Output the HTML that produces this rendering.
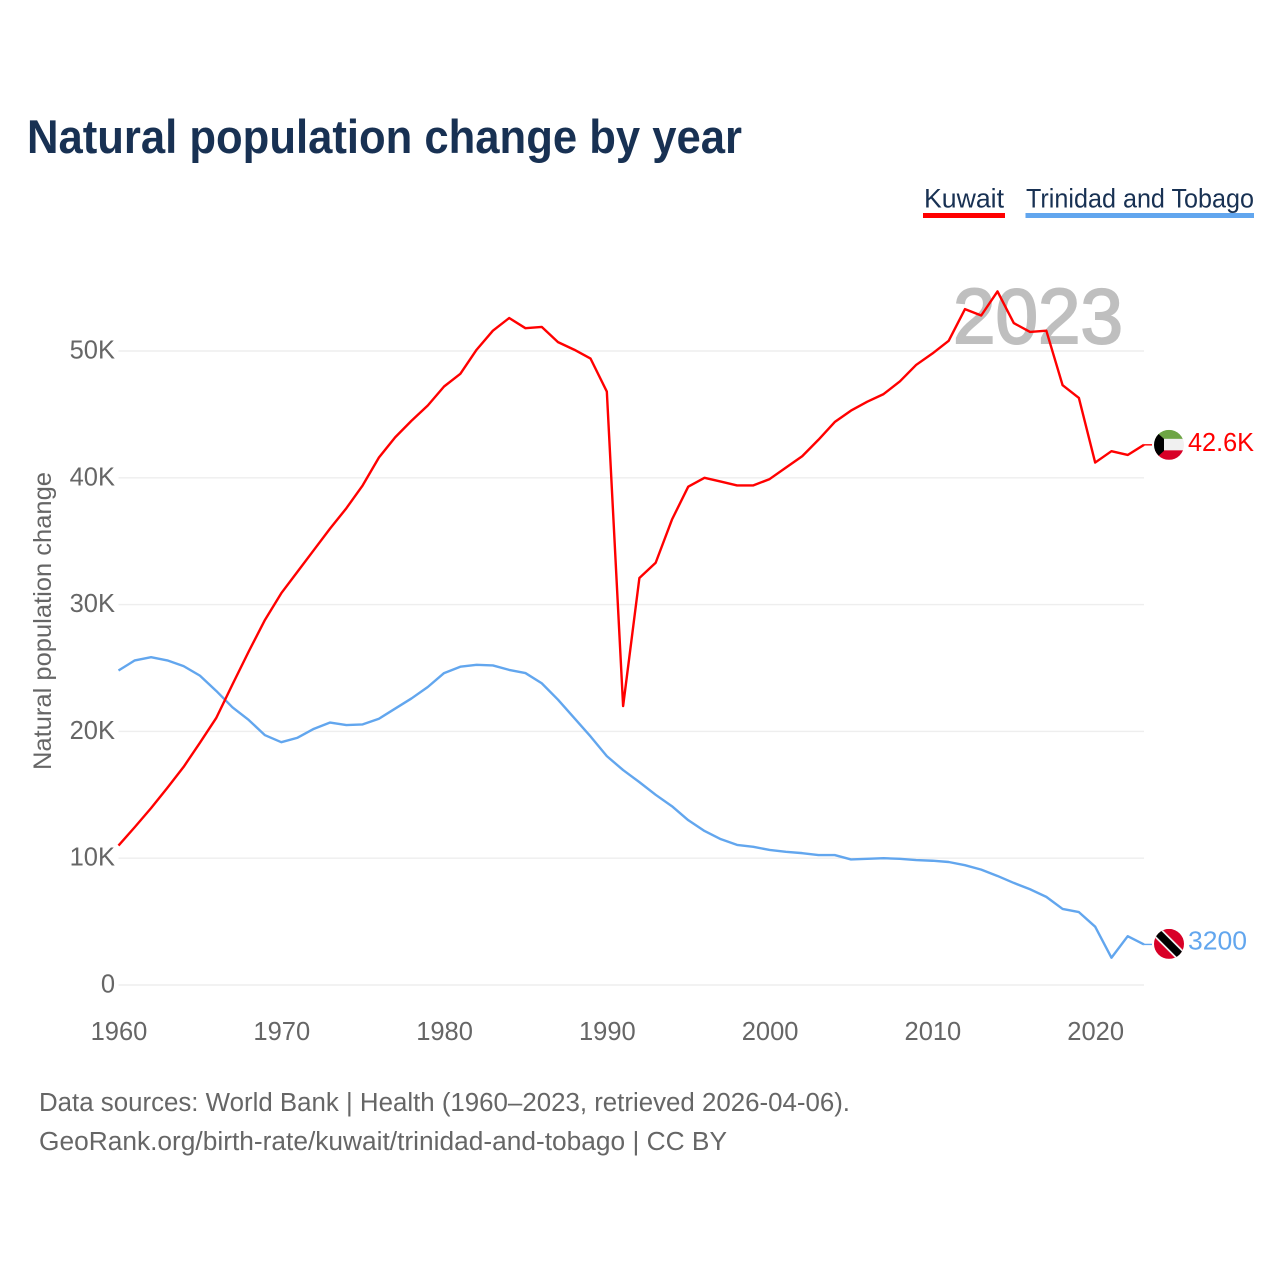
<!DOCTYPE html>
<html lang="en">
<head>
<meta charset="utf-8">
<title>Natural population change by year</title>
<style>
html,body{margin:0;padding:0;background:#fff;width:1280px;height:1280px;overflow:hidden}
svg{display:block}
text{font-family:"Liberation Sans",sans-serif}
.tick{font-size:25.5px;fill:#666}
.foot{font-size:25.5px;fill:#666}
</style>
</head>
<body>
<svg id="chart" xmlns="http://www.w3.org/2000/svg" width="1280" height="1280" viewBox="0 0 1280 1280">
  <defs>
    <clipPath id="flag-clip"><circle cx="0" cy="0" r="15"/></clipPath>
  </defs>
  <text x="27" y="153" font-size="47" font-weight="700" fill="#183153" textLength="715" lengthAdjust="spacingAndGlyphs">Natural population change by year</text>

  <g>
    <text x="924" y="207.5" font-size="26.5" fill="#183153" textLength="80" lengthAdjust="spacingAndGlyphs">Kuwait</text>
    <rect x="923" y="213" width="82" height="5" fill="#ff0000"/>
  </g>
  <g>
    <text x="1026" y="207.5" font-size="26.5" fill="#183153" textLength="228" lengthAdjust="spacingAndGlyphs">Trinidad and Tobago</text>
    <rect x="1025.5" y="213" width="228.5" height="5" fill="#62a6ee"/>
  </g>

  <g id="grid"></g>
  <text x="953" y="343" font-size="78" font-weight="400" fill="#bfbfbf" textLength="170" lengthAdjust="spacingAndGlyphs" stroke="#bfbfbf" stroke-width="2">2023</text>
  <g id="y-ticks"></g>
  <g id="x-ticks"></g>
  <text transform="translate(51,621) rotate(-90)" text-anchor="middle" font-size="25" fill="#666" textLength="298" lengthAdjust="spacingAndGlyphs">Natural population change</text>
  <g id="series"></g>

  <g id="flag-kuwait">
    <g clip-path="url(#flag-clip)">
      <rect x="-15" y="-15" width="30" height="9.5" fill="#6da544"/>
      <rect x="-15" y="-6" width="30" height="12" fill="#f0f0f0"/>
      <rect x="-15" y="5.5" width="30" height="9.5" fill="#d80027"/>
      <polygon points="-15,-15 -5,-6 -5,6 -15,15" fill="#000"/>
    </g>
  </g>
  <g id="flag-tt">
    <g clip-path="url(#flag-clip)">
      <rect x="-15" y="-15" width="30" height="30" fill="#d80027"/>
      <line x1="-15" y1="-15" x2="15" y2="15" stroke="#f0f0f0" stroke-width="11"/>
      <line x1="-15" y1="-15" x2="15" y2="15" stroke="#000" stroke-width="7.5"/>
    </g>
  </g>
  <text id="value-kuwait" x="1188" font-size="25.5" fill="#ff0000" textLength="66" lengthAdjust="spacingAndGlyphs"></text>
  <text id="value-tt" x="1188" font-size="25.5" fill="#62a6ee" textLength="59" lengthAdjust="spacingAndGlyphs"></text>

  <text class="foot" x="39" y="1111" textLength="811" lengthAdjust="spacingAndGlyphs">Data sources: World Bank | Health (1960–2023, retrieved 2026-04-06).</text>
  <text class="foot" x="39" y="1150" textLength="688" lengthAdjust="spacingAndGlyphs">GeoRank.org/birth-rate/kuwait/trinidad-and-tobago | CC BY</text>
</svg>
<script>
const startYear = 1960;
const kuwaitValues = [11.0,12.45,13.95,15.55,17.2,19.1,21.05,23.7,26.3,28.8,30.9,32.6,34.3,36.0,37.6,39.4,41.6,43.2,44.5,45.7,47.2,48.2,50.1,51.6,52.6,51.8,51.9,50.7,50.1,49.4,46.8,22.0,32.1,33.3,36.7,39.3,40.0,39.7,39.4,39.4,39.9,40.8,41.7,43.0,44.4,45.3,46.0,46.6,47.6,48.9,49.8,50.8,53.3,52.8,54.7,52.2,51.5,51.6,47.3,46.3,41.2,42.1,41.8,42.6];
const trinidadValues = [24.8,25.6,25.85,25.6,25.15,24.4,23.2,21.9,20.9,19.7,19.15,19.5,20.2,20.7,20.5,20.55,21.0,21.8,22.6,23.5,24.6,25.1,25.25,25.2,24.85,24.6,23.8,22.5,21.05,19.6,18.05,16.95,16.0,15.0,14.1,13.0,12.15,11.5,11.05,10.9,10.65,10.5,10.4,10.25,10.25,9.9,9.95,10.0,9.95,9.85,9.8,9.7,9.45,9.1,8.6,8.05,7.55,6.95,6.0,5.75,4.6,2.15,3.85,3.2];
const yTickValues = [0,10,20,30,40,50];
const yTickLabels = ["0","10K","20K","30K","40K","50K"];
const xTickYears = [1960,1970,1980,1990,2000,2010,2020];
const kuwaitLastLabel = "42.6K";
const trinidadLastLabel = "3200";

const NS = "http://www.w3.org/2000/svg";
const plotLeft = 118.5, plotRight = 1144, yZero = 985, pxPerK = 12.68;
const yearCount = kuwaitValues.length;
function xScale(year){ return plotLeft + (year - startYear) * (plotRight - plotLeft) / (yearCount - 1); }
function yScale(v){ return yZero - v * pxPerK; }
function make(tag, attrs){
  const el = document.createElementNS(NS, tag);
  for (const k in attrs) el.setAttribute(k, attrs[k]);
  return el;
}

const grid = document.getElementById('grid');
const yTicks = document.getElementById('y-ticks');
yTickValues.forEach(function(v, i){
  const line = make('line', {x1: plotLeft, x2: plotRight, y1: yScale(v), y2: yScale(v), stroke: '#eeeeee', 'stroke-width': 1.4});
  
  
  grid.appendChild(line);
  const label = make('text', {x: 115, y: yScale(v) + 7.5, 'text-anchor': 'end', class: 'tick'});
  
  
  label.textContent = yTickLabels[i];
  yTicks.appendChild(label);
});

const xTicks = document.getElementById('x-ticks');
xTickYears.forEach(function(yr){
  const label = make('text', {x: xScale(yr) + 0.5, y: 1040, 'text-anchor': 'middle', class: 'tick'});
  
  
  label.textContent = String(yr);
  xTicks.appendChild(label);
});

function pointsFor(values){
  return values.map(function(v, i){ return xScale(startYear + i).toFixed(2) + ',' + yScale(v).toFixed(2); }).join(' ');
}
const series = document.getElementById('series');

const trinidadLine = make('polyline', {points: pointsFor(trinidadValues), fill: 'none', stroke: '#62a6ee', 'stroke-width': 2.4, 'stroke-linejoin': 'round'});


series.appendChild(trinidadLine);

const kuwaitLine = make('polyline', {points: pointsFor(kuwaitValues), fill: 'none', stroke: '#ff0000', 'stroke-width': 2.4, 'stroke-linejoin': 'round'});


series.appendChild(kuwaitLine);

const kuwaitEndY = yScale(kuwaitValues[yearCount - 1]);
const trinidadEndY = yScale(trinidadValues[yearCount - 1]);

const kuwaitLeader = make('line', {x1: plotRight, x2: 1152, y1: kuwaitEndY, y2: kuwaitEndY, stroke: '#ff0000', 'stroke-width': 1.4});


series.appendChild(kuwaitLeader);

const trinidadLeader = make('line', {x1: plotRight, x2: 1152, y1: trinidadEndY, y2: trinidadEndY, stroke: '#62a6ee', 'stroke-width': 1.4});


series.appendChild(trinidadLeader);

document.getElementById('flag-kuwait').setAttribute('transform', 'translate(1169,' + kuwaitEndY + ')');
document.getElementById('flag-tt').setAttribute('transform', 'translate(1169,' + (trinidadEndY - 0.5) + ')');
const valueKuwait = document.getElementById('value-kuwait');
valueKuwait.setAttribute('y', kuwaitEndY + 6);
valueKuwait.textContent = kuwaitLastLabel;
const valueTt = document.getElementById('value-tt');
valueTt.setAttribute('y', trinidadEndY + 5);
valueTt.textContent = trinidadLastLabel;
</script>
</body>
</html>
